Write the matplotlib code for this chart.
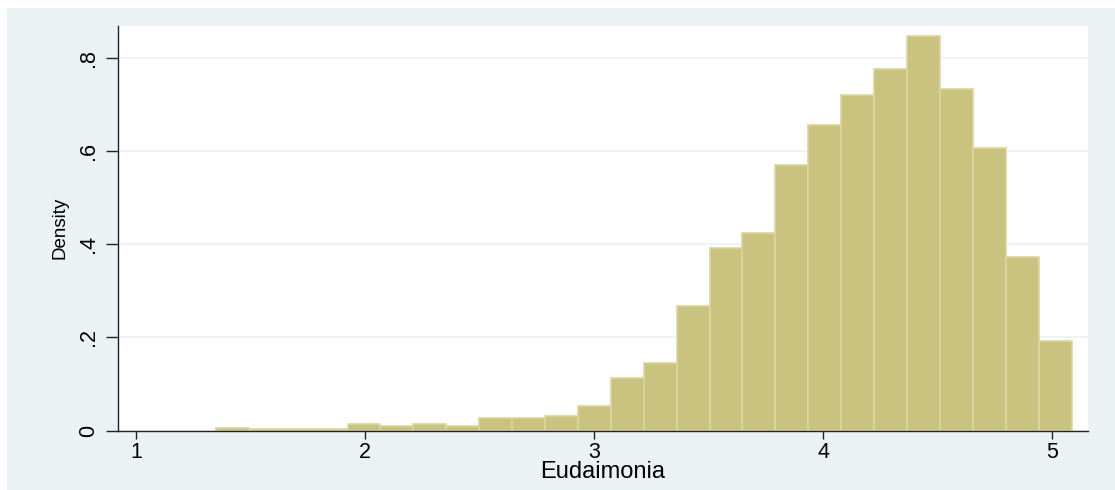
import matplotlib
matplotlib.use("Agg")
import matplotlib.pyplot as plt
from matplotlib.patches import Rectangle

# histogram of eudaimonia scores (density scale)
bin_start = 1.349
bin_width = 0.1437
density = [0.005, 0.003, 0.003, 0.003, 0.0137, 0.0094, 0.0137, 0.0094,
           0.0266, 0.028, 0.032, 0.054, 0.114, 0.146, 0.2685, 0.3928,
           0.4236, 0.570, 0.656, 0.7207, 0.7757, 0.8464, 0.7335, 0.6064,
           0.372, 0.1928]
bin_left = [bin_start + i * bin_width for i in range(len(density))]

x_ticks = [1, 2, 3, 4, 5]
y_ticks = [0, 0.2, 0.4, 0.6, 0.8]
y_ticklabels = ["0", ".2", ".4", ".6", ".8"]

bg = "#EAF2F3"
plt.rcParams["font.family"] = ["Liberation Sans", "DejaVu Sans"]

fig = plt.figure(figsize=(11.15, 4.9), dpi=100)
fig.patch.set_facecolor("white")
fig.patches.append(Rectangle((7 / 1115, 0), 1 - 7 / 1115, 1 - 8 / 490,
                             transform=fig.transFigure, facecolor=bg,
                             edgecolor="none", zorder=-5))

ax = fig.add_axes([117.7 / 1115, (490 - 430.7) / 490,
                   (1088 - 117.7) / 1115, (430.7 - 25.7) / 490])
ax.set_facecolor("white")

ax.bar(bin_left, density, width=bin_width, align="edge",
       color="#CAC37F", edgecolor="#DBD6A0", linewidth=1.2, zorder=3)

ax.set_xlim(0.920, 5.157)
ax.set_ylim(0, 0.8686)

ax.set_xticks(x_ticks)
ax.set_xticklabels([str(t) for t in x_ticks])
ax.set_yticks(y_ticks)
ax.set_yticklabels(y_ticklabels, rotation=90, va="center")

ax.grid(axis="y", color=bg, linewidth=1.2, zorder=1)
ax.set_axisbelow(True)

for side in ["top", "right"]:
    ax.spines[side].set_visible(False)
for side in ["left", "bottom"]:
    ax.spines[side].set_color("#222222")
    ax.spines[side].set_linewidth(1.0)
    ax.spines[side].set_zorder(4)

ax.tick_params(axis="x", length=5.5, width=1, color="#222222",
               labelsize=15.5, pad=2.5)
ax.tick_params(axis="y", length=8.5, width=1, color="#222222",
               labelsize=15.5, pad=5)

ax.set_xlabel("Eudaimonia", fontsize=17, labelpad=-1)
ax.set_ylabel("Density", fontsize=13.5, labelpad=7)

fig.savefig("out.png", dpi=100)
